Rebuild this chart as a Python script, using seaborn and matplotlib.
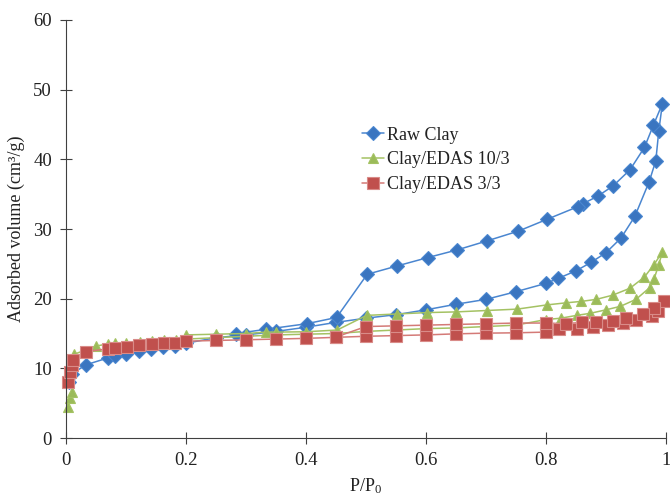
import numpy as np
import pandas as pd
import seaborn as sns
import matplotlib.pyplot as plt
from matplotlib.ticker import FuncFormatter

# ---------------- data (adsorption branch then desorption branch) ----------------
raw_x = [0.005, 0.01, 0.033, 0.07, 0.082, 0.10, 0.122, 0.142, 0.162, 0.182, 0.20, 0.25, 0.30,
         0.35, 0.40, 0.45, 0.50, 0.55, 0.60, 0.65, 0.70, 0.75, 0.80, 0.82, 0.85, 0.875, 0.90,
         0.925, 0.948, 0.972, 0.983, 0.988, 0.994,
         0.979, 0.964, 0.94, 0.912, 0.886, 0.861, 0.853, 0.802, 0.754, 0.702, 0.652, 0.603,
         0.552, 0.502, 0.451, 0.401, 0.333, 0.284]
raw_y = [8.1, 9.2, 10.5, 11.5, 11.7, 12.05, 12.5, 12.8, 13.1, 13.2, 13.6, 14.4, 14.8,
         15.3, 15.9, 16.6, 17.2, 17.7, 18.4, 19.2, 19.9, 21.0, 22.2, 22.9, 24.0, 25.2, 26.6,
         28.7, 31.8, 36.8, 39.8, 44.1, 48.0,
         44.9, 41.7, 38.5, 36.2, 34.7, 33.6, 33.2, 31.4, 29.7, 28.3, 27.0, 25.9,
         24.7, 23.5, 17.3, 16.4, 15.6, 15.0]

edas10_x = [0.004, 0.007, 0.0095, 0.013, 0.05, 0.07, 0.082, 0.10, 0.123, 0.143, 0.163, 0.183,
            0.20, 0.25, 0.30, 0.35, 0.40, 0.45, 0.50, 0.55, 0.60, 0.65, 0.70, 0.75, 0.80,
            0.825, 0.851, 0.874, 0.90, 0.924, 0.95, 0.973, 0.98, 0.988, 0.994,
            0.98, 0.964, 0.94, 0.911, 0.884, 0.858, 0.833, 0.801, 0.752, 0.701, 0.65, 0.601,
            0.551, 0.501, 0.452, 0.40, 0.35, 0.333, 0.30, 0.25, 0.20]
edas10_y = [4.5, 5.8, 6.6, 12.0, 13.2, 13.5, 13.6, 13.7, 13.8, 13.9, 14.0, 14.1,
            14.2, 14.4, 14.6, 14.8, 14.9, 15.0, 15.3, 15.5, 15.7, 15.8, 16.0, 16.2, 17.0,
            17.2, 17.6, 17.9, 18.4, 18.9, 19.9, 21.6, 22.8, 24.9, 26.7,
            24.9, 23.1, 21.5, 20.5, 19.9, 19.6, 19.4, 19.1, 18.5, 18.3, 18.1, 18.0,
            17.8, 17.6, 15.5, 15.25, 15.2, 15.2, 15.0, 14.9, 14.8]

edas3_x = [0.004, 0.007, 0.0095, 0.012, 0.033, 0.07, 0.082, 0.102, 0.122, 0.143, 0.163, 0.182,
           0.20, 0.25, 0.30, 0.35, 0.40, 0.45, 0.50, 0.55, 0.60, 0.65, 0.70, 0.75, 0.80,
           0.822, 0.852, 0.878, 0.904, 0.928, 0.95, 0.976, 0.987, 0.996,
           0.98, 0.961, 0.934, 0.911, 0.884, 0.86, 0.833, 0.80, 0.75, 0.70, 0.65, 0.60,
           0.55, 0.50, 0.45]
edas3_y = [8.1, 9.5, 10.5, 11.2, 12.4, 12.8, 12.9, 13.1, 13.3, 13.5, 13.6, 13.7,
           13.9, 14.0, 14.1, 14.2, 14.3, 14.45, 14.6, 14.7, 14.8, 14.95, 15.05, 15.1, 15.2,
           15.6, 15.7, 16.0, 16.2, 16.5, 16.9, 17.5, 18.3, 19.6,
           18.6, 17.8, 17.2, 16.8, 16.7, 16.6, 16.4, 16.5, 16.5, 16.4, 16.3, 16.2,
           16.1, 16.0, 14.5]

series_names = ["Raw Clay", "Clay/EDAS 10/3", "Clay/EDAS 3/3"]
x_ticks = [0, 0.2, 0.4, 0.6, 0.8, 1.0]
y_ticks = [0, 10, 20, 30, 40, 50, 60]

# ---------------- style ----------------
sns.set_theme(style="ticks")
plt.rcParams['font.family'] = ['Liberation Serif', 'DejaVu Serif']
plt.rcParams['mathtext.fontset'] = 'custom'
plt.rcParams['mathtext.rm'] = 'Liberation Serif'
plt.rcParams['mathtext.it'] = 'Liberation Serif:italic'

fig = plt.figure(figsize=(6.7, 4.94), dpi=100)
ax = fig.add_axes([66 / 670, 56 / 494, 600 / 670, 418 / 494])

styles = [
    dict(marker='D', markersize=6.8, color='#4a86d0', markerfacecolor='#3a75c0',
         markeredgecolor='#4a86d0'),
    dict(marker='^', markersize=7.5, color='#a4c263', markerfacecolor='#9bbb59',
         markeredgecolor='#a4c263'),
    dict(marker='s', markersize=9, color='#d47a77', markerfacecolor='#c0504d',
         markeredgecolor='#d98b88'),
]
data = [(raw_x, raw_y), (edas10_x, edas10_y), (edas3_x, edas3_y)]

for (xs, ys), name, st in zip(data, series_names, styles):
    df = pd.DataFrame({"x": xs, "y": ys})
    sns.lineplot(data=df, x="x", y="y", sort=False, estimator=None, ax=ax,
                 linewidth=1.1, label=name, clip_on=False, markeredgewidth=0.8, **st)

ax.set_xlim(0, 1)
ax.set_ylim(0, 60)
ax.set_xticks(x_ticks)
ax.set_yticks(y_ticks)
ax.xaxis.set_major_formatter(FuncFormatter(lambda v, p: f"{v:g}"))
ax.yaxis.set_major_formatter(FuncFormatter(lambda v, p: f"{v:g}"))
ax.tick_params(direction='inout', length=8, width=0.8, colors='#404040',
               labelcolor='#222222', labelsize=13.5)
ax.tick_params(axis='x', pad=6)
ax.tick_params(axis='y', pad=6)
for s in ['top', 'right']:
    ax.spines[s].set_visible(False)
for s in ['left', 'bottom']:
    ax.spines[s].set_color('#404040')
    ax.spines[s].set_linewidth(0.8)

ax.set_xlabel("P/P$_0$", fontsize=13, color='#222222', labelpad=5)
ax.set_ylabel("Adsorbed volume (cm³/g)", fontsize=13, color='#222222', labelpad=6)

leg = ax.legend(loc='upper left', bbox_to_anchor=(0.482, 0.762), frameon=False,
                prop={'family': 'Liberation Serif', 'size': 13},
                handlelength=1.2, handletextpad=0.15, labelspacing=0.42,
                borderaxespad=0)
for t in leg.get_texts():
    t.set_color('#222222')

fig.savefig("out.png", dpi=100)
